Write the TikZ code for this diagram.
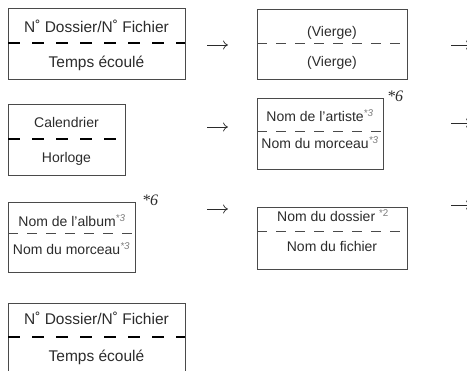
\documentclass[tikz,border=0pt]{standalone}
\usepackage{fontspec}
\setmainfont{Liberation Sans}
\newfontfamily\noteserif{Liberation Serif}
\usetikzlibrary{arrows.meta}

\definecolor{ink}{HTML}{2B2B2B}
\definecolor{boxgray}{HTML}{4A4A4A}
\definecolor{notegray}{HTML}{7A7A7A}

\newcommand{\noteit}[1]{\textsuperscript{\color{notegray}\itshape *#1}}
\newcommand{\noteup}[1]{\textsuperscript{\color{notegray}*#1}}
\newcommand{\notesix}{{\fontsize{16}{18}\noteserif\itshape *6}}

\begin{document}
\begin{tikzpicture}[
						x=1pt, y=-1pt,
						every node/.style={font=\fontsize{14}{16}\selectfont, text=ink, inner sep=0pt, anchor=base},
						bigtext/.style={font=\fontsize{15.5}{18}\selectfont},
						frame/.style={draw=boxgray, line width=0.9pt},
						darkdash/.style={draw=black, line width=1.4pt, dash pattern=on 12pt off 12pt},
						lightdash/.style={draw=boxgray, line width=1pt, dash pattern=on 10pt off 9pt},
						flow/.style={draw=ink, line width=0.7pt, -{To[length=5pt,width=9pt]}},
						line join=miter
						]
						
						\useasboundingbox (0,0) rectangle (467,371);
						\clip (0,0) rectangle (467,371);
						
						% Row 1 left: folder/file number
						\begin{scope}[shift={(8,8)}]
							\draw[frame] (0,0) rectangle (177,71);
							\draw[darkdash] (0,35) -- (177,35);
							\node[bigtext] (numtop) at (88.5,25) {N˚ Dossier/N˚ Fichier};
							\node[bigtext] (elapsed) at (88.5,60) {Temps écoulé};
						\end{scope}
						
						% Row 1 right: blank
						\begin{scope}[shift={(257,9)}]
							\draw[frame] (0,0) rectangle (150,70);
							\draw[lightdash] (0,35) -- (150,35);
							\node (blanktop) at (75,28) {(Vierge)};
							\node (blankbot) at (75,58) {(Vierge)};
						\end{scope}
						
						% Row 2 left: calendar/clock
						\begin{scope}[shift={(8,104)}]
							\draw[frame] (0,0) rectangle (117,71);
							\draw[darkdash] (0,35) -- (117,35);
							\node (calendar) at (58.5,24) {Calendrier};
							\node (clock) at (58.5,59) {Horloge};
						\end{scope}
						
						% Row 2 right: artist/track
						\begin{scope}[shift={(257,98)}]
							\draw[frame] (0,0) rectangle (126,71);
							\draw[lightdash] (0,34) -- (126,34);
							\node (artist) at (63,24) {Nom de l’artiste\noteit{3}};
							\node (tracka) at (63,51) {Nom du morceau\noteit{3}};
							\node[anchor=base west] (sixa) at (130,4) {\notesix};
						\end{scope}
						
						% Row 3 left: album/track
						\begin{scope}[shift={(8,202)}]
							\draw[frame] (0,0) rectangle (127,70);
							\draw[lightdash] (0,32) -- (127,32);
							\node (album) at (64,25) {Nom de l’album\noteit{3}};
							\node (trackb) at (63.5,53) {Nom du morceau\noteit{3}};
							\node[anchor=base west] (sixb) at (134,4) {\notesix};
						\end{scope}
						
						% Row 3 right: folder/file name
						\begin{scope}[shift={(257,207)}]
							\draw[frame] (0,0) rectangle (150,62);
							\draw[lightdash] (0,25) -- (150,25);
							\node (folder) at (76,15) {Nom du dossier \noteup{2}};
							\node (file) at (75,45) {Nom du fichier};
						\end{scope}
						
						% Row 4: back to folder/file number
						\begin{scope}[shift={(8,303)}]
							\draw[frame] (0,0) rectangle (177,74);
							\draw[darkdash] (0,34) -- (177,34);
							\node[bigtext] (numbot) at (88.5,22) {N˚ Dossier/N˚ Fichier};
							\node[bigtext] (elapsedbot) at (88.5,59) {Temps écoulé};
						\end{scope}
						
						% Arrows between columns
						\coordinate (ina) at (207,45);   \coordinate (outa) at (228,45);
						\coordinate (inb) at (207,127);  \coordinate (outb) at (228,127);
						\coordinate (inc) at (207,209);  \coordinate (outc) at (228,209);
						\draw[flow] (ina) -- (outa);
						\draw[flow] (inb) -- (outb);
						\draw[flow] (inc) -- (outc);
						
						% Arrows running off the right edge
						\coordinate (nexta) at (451,45);   \coordinate (enda) at (471,45);
						\coordinate (nextb) at (451,123);  \coordinate (endb) at (471,123);
						\coordinate (nextc) at (451,205);  \coordinate (endc) at (471,205);
						\draw[flow] (nexta) -- (enda);
						\draw[flow] (nextb) -- (endb);
						\draw[flow] (nextc) -- (endc);
						
					\end{tikzpicture}
\end{document}
